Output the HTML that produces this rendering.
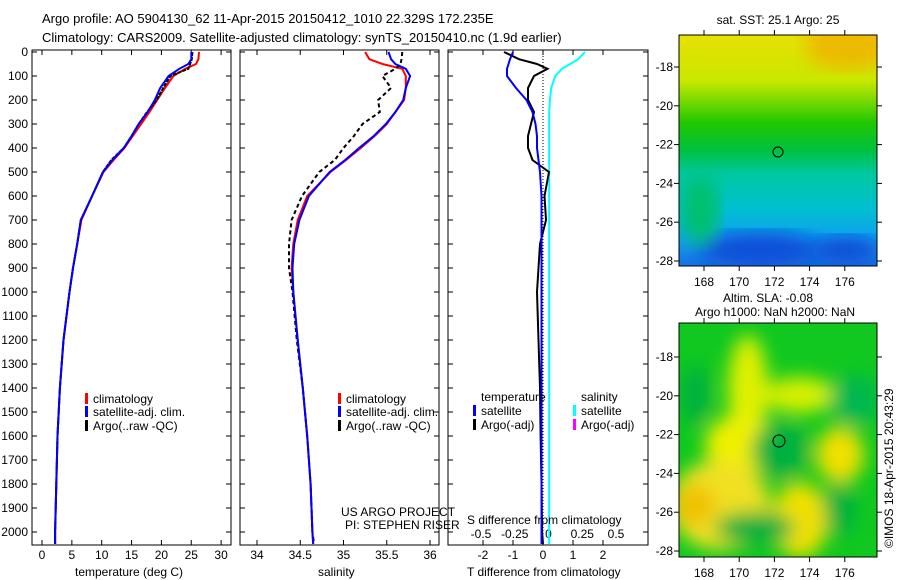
<!DOCTYPE html>
<html><head><meta charset="utf-8">
<style>
body{margin:0;background:#fff;}
svg{display:block;font-family:"Liberation Sans",sans-serif;}
text{font-size:12px;fill:#000;}
</style></head>
<body>
<svg id="c" width="900" height="580" viewBox="0 0 900 580">
<defs>
<linearGradient id="sst" x1="0" y1="0" x2="0" y2="1">
<stop offset="0" stop-color="#e8e000"/><stop offset="0.2" stop-color="#c8e800"/>
<stop offset="0.38" stop-color="#20c800"/><stop offset="0.5" stop-color="#00c040"/>
<stop offset="0.6" stop-color="#00c8a0"/><stop offset="0.75" stop-color="#00c0d0"/>
<stop offset="0.88" stop-color="#10a0f0"/><stop offset="1" stop-color="#1870e0"/>
</linearGradient>
<filter id="blur"><feGaussianBlur stdDeviation="9"/></filter>
<clipPath id="m1"><rect x="679" y="35" width="198" height="231"/></clipPath>
<clipPath id="m2"><rect x="679" y="323" width="198" height="234"/></clipPath>
</defs>
<text x="42" y="23" style="font-size:13px">Argo profile: AO 5904130_62 11-Apr-2015 20150412_1010 22.329S 172.235E</text>
<text x="42" y="42" style="font-size:13px">Climatology: CARS2009. Satellite-adjusted climatology: synTS_20150410.nc (1.9d earlier)</text>
<g id="plots"></g>
<g>
<text x="778" y="24" text-anchor="middle">sat. SST: 25.1  Argo: 25</text>
<g clip-path="url(#m1)">
<rect x="679" y="35" width="198" height="231" fill="url(#sst)"/>
<ellipse cx="850" cy="45" rx="45" ry="25" fill="#f0b000" filter="url(#blur)" opacity="0.8"/>
<ellipse cx="760" cy="250" rx="60" ry="18" fill="#1050d8" filter="url(#blur)"/>
<ellipse cx="845" cy="250" rx="35" ry="14" fill="#1050d8" filter="url(#blur)"/>
<ellipse cx="700" cy="210" rx="20" ry="35" fill="#00c070" filter="url(#blur)"/>
</g>
<rect x="679" y="35" width="198" height="231" fill="none" stroke="#000"/>
<circle cx="778" cy="152" r="5" fill="none" stroke="#000"/>
</g>
<g>
<text x="768" y="302" text-anchor="middle">Altim. SLA: -0.08</text>
<text x="775" y="316" text-anchor="middle">Argo h1000: NaN h2000: NaN</text>
<g clip-path="url(#m2)">
<rect x="679" y="323" width="198" height="234" fill="#10c820"/>
<g filter="url(#blur)">
<ellipse cx="748" cy="390" rx="20" ry="55" fill="#e0f000"/>
<ellipse cx="740" cy="445" rx="35" ry="30" fill="#f0f000"/>
<ellipse cx="720" cy="505" rx="50" ry="45" fill="#f0e020"/>
<ellipse cx="695" cy="505" rx="20" ry="20" fill="#f0c000"/>
<ellipse cx="800" cy="520" rx="28" ry="38" fill="#f0e000"/>
<ellipse cx="840" cy="455" rx="24" ry="28" fill="#f0e000"/>
<ellipse cx="800" cy="395" rx="35" ry="18" fill="#d8f000"/>
<ellipse cx="780" cy="450" rx="28" ry="28" fill="#00b040"/>
<ellipse cx="855" cy="400" rx="25" ry="25" fill="#00b850"/>
<ellipse cx="755" cy="528" rx="40" ry="16" fill="#00b040"/>
<ellipse cx="840" cy="510" rx="16" ry="25" fill="#00b040"/>
<ellipse cx="695" cy="395" rx="14" ry="30" fill="#00b040"/>
</g>
</g>
<rect x="679" y="323" width="198" height="234" fill="none" stroke="#000"/>
<circle cx="779" cy="441" r="6" fill="none" stroke="#000"/>
</g>
<text transform="translate(893,548) rotate(-90)">©IMOS 18-Apr-2015 20:43:29</text>
<text x="341" y="516">US ARGO PROJECT</text>
<text x="345" y="529">PI: STEPHEN RISER</text>
</svg>
<script>
const depthTicks=[0,100,200,300,400,500,600,700,800,900,1000,1100,1200,1300,1400,1500,1600,1700,1800,1900,2000];
const tempTicks=[0,5,10,15,20,25,30];
const salTicks=[34,34.5,35,35.5,36];
const tdTicks=[-2,-1,0,1,2];
const sdTicks=[-0.5,-0.25,0,0.25,0.5];
const sdTickLabels=["-0.5","-0.25","0","0.25","0.5"];
const depths=[0,30,50,70,100,150,200,250,300,350,400,450,500,600,700,800,900,1000,1200,1400,1600,1800,2000,2050];
const tempClim=[26.3,26.2,25.8,24,22,20.6,19.3,18,16.6,15.2,13.8,12,10.3,8.4,6.6,5.9,5.2,4.6,3.6,3.0,2.6,2.4,2.2,2.2];
const tempSat=[25,25,24.5,23,21.2,19.8,18.9,17.7,16.2,15,13.7,11.8,10.2,8.4,6.5,5.9,5.2,4.6,3.6,3.0,2.6,2.4,2.2,2.2];
const tempArgo=[25.2,25.1,24.8,24.5,21.5,20.3,19.2,17.6,16.2,15,13.7,11.6,10.2,8.4,6.5,5.9,5.2,4.6,3.6,3.0,2.6,2.4,2.2,2.2];
const salClim=[35.25,35.3,35.45,35.68,35.72,35.72,35.7,35.6,35.5,35.36,35.2,35.03,34.85,34.58,34.47,34.42,34.4,34.42,34.47,34.53,34.58,34.62,34.64,34.65];
const salSat=[35.52,35.55,35.6,35.72,35.77,35.72,35.69,35.6,35.49,35.35,35.18,35.02,34.84,34.6,34.49,34.43,34.41,34.42,34.47,34.53,34.58,34.62,34.64,34.65];
const salArgo=[35.68,35.67,35.66,35.6,35.45,35.55,35.4,35.42,35.22,35.12,35.0,34.9,34.72,34.52,34.4,34.37,34.37,34.41,34.46,34.53,34.58,34.62,34.64,34.66];
const tdSat=[-1.0,-1.1,-1.15,-1.2,-1.2,-0.9,-0.55,-0.35,-0.25,-0.2,-0.2,-0.15,-0.1,-0.05,-0.05,-0.05,-0.05,-0.05,-0.05,-0.05,-0.05,-0.05,-0.05,-0.05];
const tdArgo=[-1.3,-0.8,-0.2,0.15,-0.3,-0.5,-0.5,-0.3,-0.4,-0.5,-0.5,-0.35,0.2,0.05,0.1,-0.1,-0.15,-0.2,-0.15,-0.1,-0.08,-0.05,-0.03,0];
const sdSat=[0.27,0.22,0.16,0.1,0.05,0.02,0.01,0.005,0.005,0.005,0.005,0.005,0.005,0.005,0.005,0.005,0.005,0.005,0.005,0.005,0.005,0.005,0.005,0.005];

const NS="http://www.w3.org/2000/svg";
const root=document.getElementById('plots');
function el(t,a,p){const e=document.createElementNS(NS,t);for(const k in a)e.setAttribute(k,a[k]);(p||root).appendChild(e);return e;}
const Y0=52,YS=0.24,TOP=50,BOT=545;
const yD=d=>Y0+d*YS;
const xT=v=>42+v*5.97;
const xS=v=>257+(v-34)*86.5;
const xTD=v=>543+v*30;
const xSD=v=>548.5+v*135;
function frame(x0,x1,name){
  const r=el('rect',{x:x0,y:TOP,width:x1-x0,height:BOT-TOP,fill:'none',stroke:'#000'});
  
  
  depthTicks.forEach(d=>{el('line',{x1:x0,x2:x0+5,y1:yD(d),y2:yD(d),stroke:'#000'});el('line',{x1:x1-5,x2:x1,y1:yD(d),y2:yD(d),stroke:'#000'});});
}
function xticks(ticks,fx,labels,ty,name){
  ticks.forEach((v,i)=>{const x=fx(v);
    el('line',{x1:x,x2:x,y1:BOT-5,y2:BOT,stroke:'#000'});el('line',{x1:x,x2:x,y1:TOP,y2:TOP+5,stroke:'#000'});
    const t=el('text',{x:x,y:ty,'text-anchor':'middle'});t.textContent=labels?labels[i]:String(v);
    
    });
}
function line(vals,fx,color,w,name,dash){
  const pts=vals.map((v,i)=>fx(v).toFixed(1)+','+yD(depths[i]).toFixed(1)).join(' ');
  const a={points:pts,fill:'none',stroke:color,'stroke-width':w};
  if(dash)a['stroke-dasharray']=dash;
  const p=el('polyline',a);
  
  
}
function label(x,y,s,name){const t=el('text',{x:x,y:y});t.textContent=s;
  
  }
function key(x,y,c,s,name){el('rect',{x:x,y:y-10,width:3,height:11,fill:c});label(x+8,y,s,name);}
depthTicks.forEach(d=>{const t=el('text',{x:28,y:yD(d)+4,'text-anchor':'end'});t.textContent=d;
  
  });
frame(32,231,'temperature-panel');
xticks(tempTicks,xT,null,559,'temperature');
line(tempClim,xT,'#f00',2,'temp-climatology-line');
line(tempArgo,xT,'#000',2,'temp-argo-line','4,1');
line(tempSat,xT,'#00f',2,'temp-satellite-line');
label(75,576,'temperature (deg C)','temperature-axis-title');
key(85,403,'#f00','climatology','legend-climatology');
key(85,416,'#00f','satellite-adj. clim.','legend-satellite');
key(85,430,'#000','Argo(..raw -QC)','legend-argo');
frame(240,439,'salinity-panel');
xticks(salTicks,xS,null,559,'salinity');
line(salClim,xS,'#f00',2,'sal-climatology-line');
line(salArgo,xS,'#000',2,'sal-argo-line','4,3');
line(salSat,xS,'#00f',2,'sal-satellite-line');
label(318,576,'salinity','salinity-axis-title');
key(338,403,'#f00','climatology','legend-sal-climatology');
key(338,416,'#00f','satellite-adj. clim.','legend-sal-satellite');
key(338,430,'#000','Argo(..raw -QC)','legend-sal-argo');
frame(448,648,'difference-panel');
el('line',{x1:xTD(0),x2:xTD(0),y1:TOP,y2:BOT,stroke:'#000','stroke-dasharray':'1,2'});
xticks(tdTicks,xTD,null,559,'t-diff');
sdTicks.forEach((v,i)=>{const t=el('text',{x:xSD(v),y:538,'text-anchor':'middle'});t.textContent=sdTickLabels[i];
  
  });
line(sdSat,xSD,'#0ff',2,'s-diff-satellite-line');
line(tdArgo,xTD,'#000',2,'t-diff-argo-line');
line(tdSat,xTD,'#00f',2,'t-diff-satellite-line');
label(467,524,'S difference from climatology','s-diff-axis-title');
label(467,576,'T difference from climatology','t-diff-axis-title');
label(481,401,'temperature','legend-temperature-heading');
label(581,401,'salinity','legend-salinity-heading');
key(473,415,'#00f','satellite','legend-t-satellite');
key(473,429,'#000','Argo(-adj)','legend-t-argo');
key(573,415,'#0ff','satellite','legend-s-satellite');
key(573,429,'#f0f','Argo(-adj)','legend-s-argo');
const lonTicks=[168,170,172,174,176];
const latTicks=[-18,-20,-22,-24,-26,-28];
const mx=v=>704+(v-168)*17.6;
[[35,266,67,261,'sst'],[323,557,357,551,'sla']].forEach(([t0,t1,y18,y28,nm])=>{
  const my=v=>y18+(v+18)*(y28-y18)/(-10);
  lonTicks.forEach(v=>{el('line',{x1:mx(v),x2:mx(v),y1:t1,y2:t1+5,stroke:'#000'});el('line',{x1:mx(v),x2:mx(v),y1:t0-5,y2:t0,stroke:'#000'});
    const t=el('text',{x:mx(v),y:t1+20,'text-anchor':'middle'});t.textContent=v;
    
    });
  latTicks.forEach(v=>{el('line',{x1:674,x2:679,y1:my(v),y2:my(v),stroke:'#000'});el('line',{x1:877,x2:882,y1:my(v),y2:my(v),stroke:'#000'});
    const t=el('text',{x:673,y:my(v)+4,'text-anchor':'end'});t.textContent=v;
    
    });
});
</script>
</body></html>
